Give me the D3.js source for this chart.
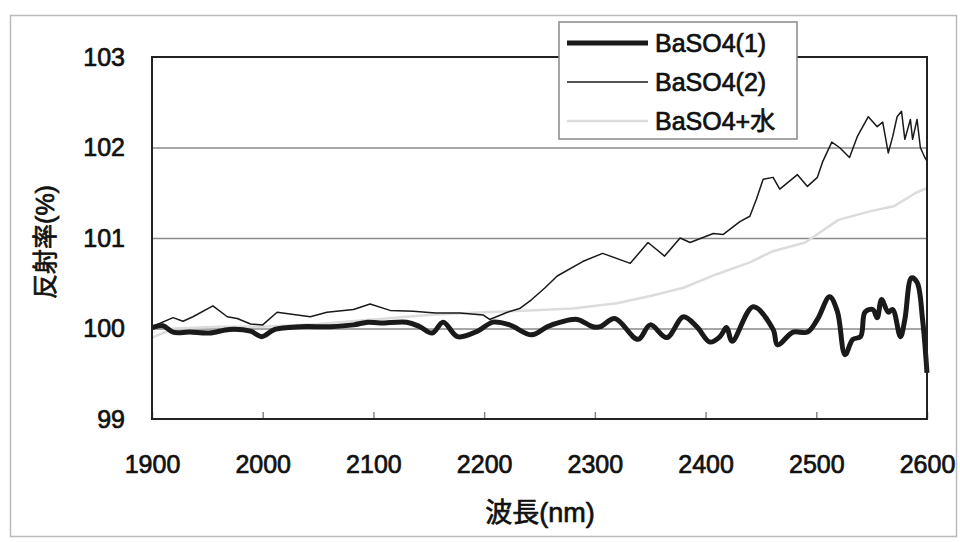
<!DOCTYPE html>
<html>
<head>
<meta charset="utf-8">
<script src="https://cdn.jsdelivr.net/npm/d3@7/dist/d3.min.js"></script>
<style>
  body { margin: 0; background: #fff; }
  text { font-family: "Liberation Sans", "Noto Sans CJK JP", sans-serif; fill: #111; }
</style>
</head>
<body>
<div id="svgContainer"></div>
<script>
// tick labels
var xTicks = [1900, 2000, 2100, 2200, 2300, 2400, 2500, 2600];
var yTicks = [99, 100, 101, 102, 103];
var gridTicks = [100, 101, 102];

// BaSO4(1) - thick line
var wl1 = [1900, 1910, 1919, 1934, 1952, 1970, 1989, 1999, 2011, 2034, 2061, 2082, 2095, 2106, 2130, 2142,
  2153, 2163, 2176, 2194, 2208, 2223, 2243, 2257, 2269, 2284, 2298, 2305, 2318, 2339, 2350, 2365, 2380,
  2392, 2404, 2413, 2419, 2424, 2443, 2461, 2465, 2479, 2492, 2501, 2512, 2519, 2526, 2533, 2540, 2544,
  2551, 2555, 2559, 2565, 2569, 2576, 2580, 2586, 2591, 2596, 2600];
var baso4_1 = [100.01, 100.03, 99.96, 99.96, 99.95, 99.99, 99.97, 99.91, 99.99, 100.02, 100.02, 100.04, 100.07,
  100.06, 100.07, 100.02, 99.95, 100.07, 99.91, 99.97, 100.07, 100.04, 99.93, 100.02, 100.07, 100.1, 100.02,
  100.02, 100.11, 99.88, 100.04, 99.9, 100.13, 100.02, 99.85, 99.91, 100.01, 99.86, 100.24, 99.99, 99.82,
  99.96, 99.96, 100.1, 100.35, 100.19, 99.71, 99.88, 99.91, 100.18, 100.21, 100.12, 100.32, 100.18, 100.21,
  99.91, 100.1, 100.56, 100.51, 100.1, 99.51];

// BaSO4(2) - thin line
var wl2 = [1900, 1919, 1928, 1937, 1955, 1968, 1977, 1989, 2000, 2013, 2043, 2058, 2082, 2097, 2115, 2136,
  2156, 2178, 2199, 2205, 2221, 2232, 2243, 2255, 2266, 2289, 2307, 2332, 2348, 2363, 2377, 2386, 2407,
  2416, 2431, 2440, 2446, 2452, 2461, 2467, 2483, 2492, 2501, 2506, 2514, 2521, 2530, 2537, 2547, 2555,
  2560, 2565, 2569, 2573, 2577, 2580, 2585, 2587, 2591, 2594, 2598, 2600];
var baso4_2 = [100.02, 100.12, 100.08, 100.13, 100.25, 100.13, 100.11, 100.05, 100.04, 100.18, 100.13, 100.18,
  100.21, 100.27, 100.2, 100.19, 100.17, 100.17, 100.15, 100.1, 100.18, 100.22, 100.32, 100.45, 100.58,
  100.74, 100.83, 100.72, 100.95, 100.8, 101.0, 100.95, 101.05, 101.04, 101.18, 101.24, 101.43, 101.65,
  101.67, 101.54, 101.7, 101.57, 101.67, 101.85, 102.06, 102.0, 101.89, 102.12, 102.34, 102.23, 102.28,
  101.94, 102.12, 102.34, 102.4, 102.09, 102.31, 102.09, 102.31, 102.0, 101.89, 101.85];

// BaSO4+水 - light grey line
var wl3 = [1900, 1920, 1960, 2000, 2050, 2100, 2150, 2200, 2240, 2280, 2320, 2350, 2380, 2410, 2440, 2460,
  2490, 2520, 2550, 2570, 2590, 2600];
var baso4_w = [99.9, 100.0, 100.02, 100.02, 100.05, 100.1, 100.15, 100.18, 100.2, 100.22, 100.28, 100.36,
  100.45, 100.6, 100.73, 100.85, 100.95, 101.2, 101.3, 101.35, 101.5, 101.55];

var seriesNames = ["BaSO4(1)", "BaSO4(2)", "BaSO4+水"];

var width = 960;
var height = 542;
var margin = { left: 152, top: 57, right: 33, bottom: 123 };
var plotW = width - margin.left - margin.right;
var plotH = height - margin.top - margin.bottom;

var svg = d3.select("#svgContainer")
  .append("svg").attr("id", "svg").attr("width", width).attr("height", height);

var x = d3.scaleLinear().domain([1900, 2600]).range([0, plotW]);
var y = d3.scaleLinear().domain([99, 103]).range([plotH, 0]);

// labels: regular face, thickened a little to look like the scanned text
function labelStyle(s, size) {
  s.style("font-size", size).style("font-weight", "normal").style("fill", "#111")
    .style("stroke", "#111").style("stroke-width", 0.7)
    .style("font-family", "'Liberation Sans', 'Noto Sans CJK JP', sans-serif");
}

// outer frame
svg.append("rect")
  .attr("x", 10.5).attr("y", 15.5).attr("width", 946).attr("height", 521)
  .style("fill", "none").style("stroke", "#bbb").style("stroke-width", 1.5);

var g = svg.append("g").attr("transform", "translate(" + margin.left + "," + margin.top + ")");

// grid
g.append("g")
  .call(d3.axisLeft(y).tickValues(gridTicks).tickSize(-plotW).tickFormat(""))
  .call(function(s) {
    s.select(".domain").remove();
    s.selectAll("line").style("stroke", "#8a8a8a").style("stroke-width", 1.5);
  });

// x ticks (inside, going up)
g.append("g")
  .attr("transform", "translate(0," + plotH + ")")
  .call(d3.axisBottom(x).tickValues(xTicks).tickSize(-7).tickPadding(36).tickFormat(d3.format("d")))
  .call(function(s) {
    s.select(".domain").remove();
    s.selectAll("line").style("stroke", "#888").style("stroke-width", 1.5);
    labelStyle(s.selectAll("text"), "25px");
  });

// y labels
g.append("g")
  .call(d3.axisLeft(y).tickValues(yTicks).tickSize(0).tickPadding(27).tickFormat(d3.format("d")))
  .call(function(s) {
    s.select(".domain").remove();
    labelStyle(s.selectAll("text"), "25px");
  });

function drawSeries(wl, vals, color, strokeWidth, curve) {
  var pts = wl.map(function(d, i) { return [d, vals[i]]; });
  g.append("path")
    .datum(pts)
    .attr("d", d3.line().curve(curve).x(function(d) { return x(d[0]); }).y(function(d) { return y(d[1]); }))
    .style("fill", "none")
    .style("stroke", color)
    .style("stroke-width", strokeWidth)
    .style("stroke-linejoin", "round");
}

drawSeries(wl3, baso4_w, "#dcdcdc", 2.5, d3.curveLinear);
drawSeries(wl2, baso4_2, "#1a1a1a", 1.5, d3.curveLinear);
drawSeries(wl1, baso4_1, "#1a1a1a", 5, d3.curveCatmullRom);

// plot border
g.append("rect")
  .attr("x", 0).attr("y", 0).attr("width", plotW).attr("height", plotH)
  .style("fill", "none").style("stroke", "#222").style("stroke-width", 2);

// legend
var legend = svg.append("g").attr("transform", "translate(559,22)");
legend.append("rect")
  .attr("x", 0).attr("y", 0).attr("width", 238).attr("height", 117)
  .style("fill", "#fff").style("stroke", "#888").style("stroke-width", 1.5);
var legendStyles = [
  { color: "#1a1a1a", w: 5 },
  { color: "#1a1a1a", w: 1.5 },
  { color: "#dcdcdc", w: 2.5 }
];
seriesNames.forEach(function(name, i) {
  var ly = 21 + i * 39;
  legend.append("line")
    .attr("x1", 8).attr("y1", ly).attr("x2", 89).attr("y2", ly)
    .style("stroke", legendStyles[i].color).style("stroke-width", legendStyles[i].w);
  labelStyle(legend.append("text")
    .attr("x", 96).attr("y", ly).attr("dy", "0.35em")
    .text(name), "25px");
});

// axis titles
labelStyle(svg.append("text")
  .attr("x", 540).attr("y", 513).attr("dy", "0.35em")
  .attr("text-anchor", "middle")
  .text("波長(nm)"), "27px");

labelStyle(svg.append("text")
  .attr("transform", "translate(45,242) rotate(-90)")
  .attr("dy", "0.35em")
  .attr("text-anchor", "middle")
  .text("反射率(%)"), "25px");
</script>
</body>
</html>
